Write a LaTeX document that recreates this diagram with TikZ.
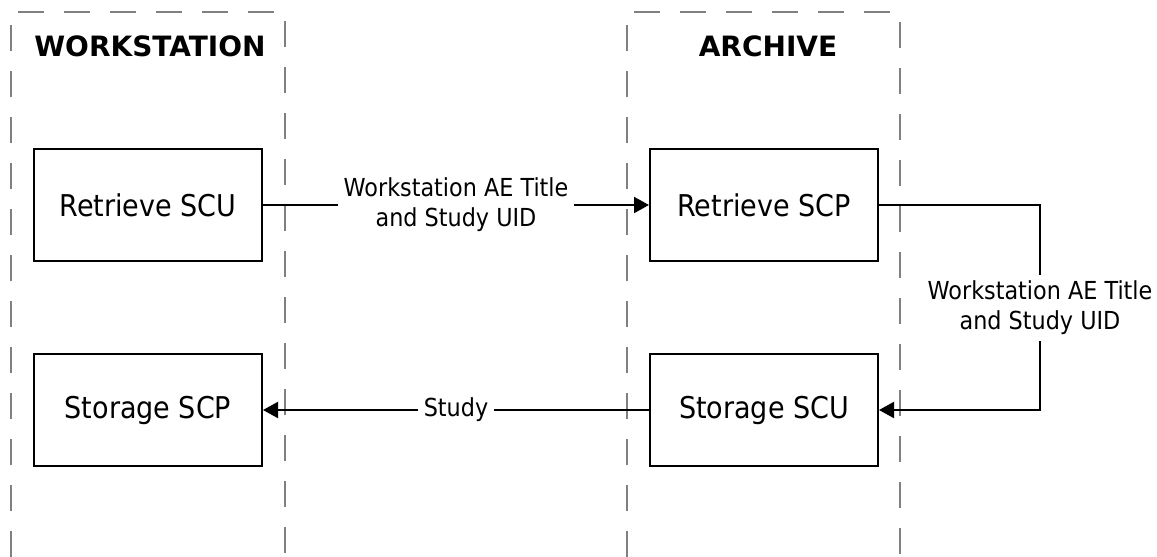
\documentclass[tikz,border=0pt]{standalone}
\usepackage{fontspec}
\setmainfont{DejaVu Sans}
\newfontfamily\narrowfont[FakeStretch=0.9]{DejaVu Sans}
\usetikzlibrary{arrows.meta}

\begin{document}
\begin{tikzpicture}[x=0.5pt,y=-0.5pt,
  blk/.style={rectangle,draw,line width=1pt,minimum width=114pt,minimum height=56pt,font=\narrowfont\fontsize{15}{18}\selectfont},
  lbl/.style={fill=white,inner sep=3pt,align=center,font=\narrowfont\fontsize{12.4}{15}\selectfont},
  hdr/.style={font=\fontsize{14}{16}\selectfont\bfseries},
  lane/.style={draw=black!50,line width=0.65pt,dash pattern=on 13pt off 10pt},
  arr/.style={line width=1pt,-{Triangle[length=7.5pt,width=8pt]}}]
  \useasboundingbox (0,0) rectangle (1157,557);

  % swim lanes
  \draw[lane] (11,557) -- (11,12) -- (285,12) -- (285,557);
  \draw[lane] (627,557) -- (627,12) -- (900,12) -- (900,557);
  \node[hdr] (ws) at (150,46) {WORKSTATION};
  \node[hdr] (ar) at (768,46) {ARCHIVE};

  \node[blk] (rscu) at (148,205) {Retrieve SCU};
  \node[blk] (sscp) at (148,410) {Storage SCP};
  \node[blk] (rscp) at (764,205) {Retrieve SCP};
  \node[blk] (sscu) at (764,410) {Storage SCU};
  \coordinate (bend) at (1040,308);

  \draw[arr] (rscu) -- node[lbl] {Workstation AE Title\\and Study UID} (rscp);
  \draw[arr] (rscp) -| (bend) node[lbl] {Workstation AE Title\\and Study UID} |- (sscu);
  \draw[arr] (sscu) -- node[lbl] {Study} (sscp);
\end{tikzpicture}
\end{document}
